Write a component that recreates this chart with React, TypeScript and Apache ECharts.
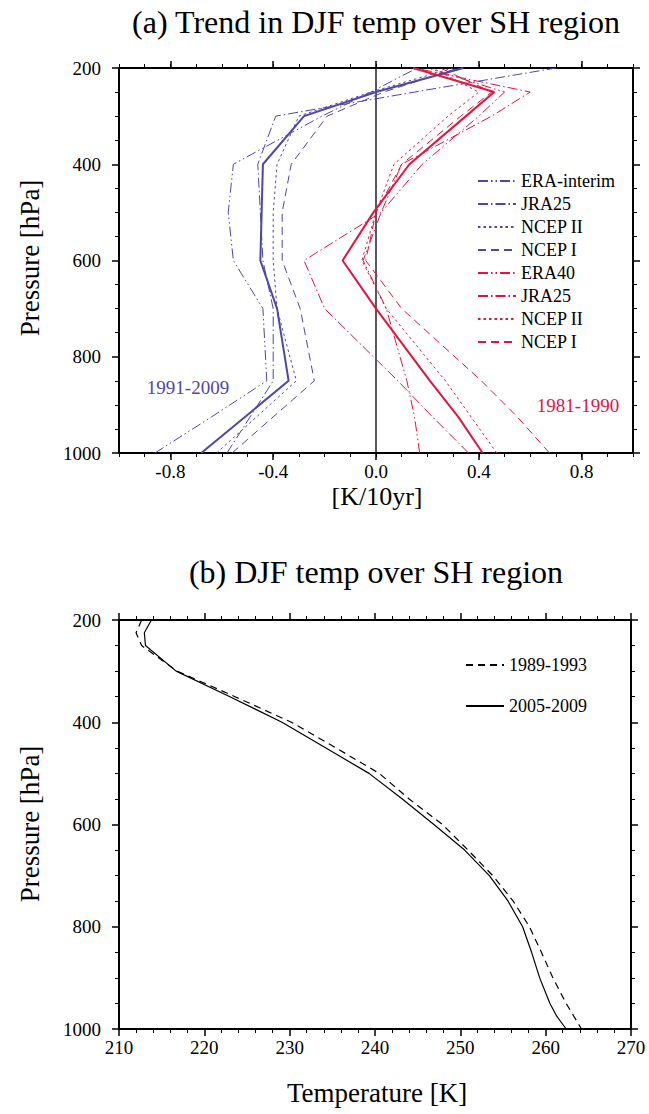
import React, { useEffect, useRef } from 'react';
import * as echarts from 'echarts';

// ---------- Panel (a): trend profiles ----------
const pressureA = [1000, 925, 850, 700, 600, 500, 400, 300, 250, 200];

const blueMean = [-0.68, -0.51, -0.34, -0.385, -0.45, -0.445, -0.44, -0.28, 0.0, 0.34];
const blueEraInterim = [-0.86, -0.64, -0.425, -0.44, -0.555, -0.575, -0.555, -0.21, -0.02, 0.16];
const blueJra25 = [-0.58, -0.49, -0.4, -0.4, -0.44, -0.45, -0.46, -0.39, 0.15, 0.7];
const blueNcep2 = [-0.62, -0.465, -0.31, -0.385, -0.4, -0.4, -0.385, -0.3, -0.02, 0.3];
const blueNcep1 = [-0.56, -0.4, -0.24, -0.295, -0.365, -0.365, -0.33, -0.19, 0.03, 0.32];

const redMean = [0.415, 0.32, 0.21, 0.0, -0.13, -0.01, 0.13, 0.35, 0.46, 0.145];
const redEra40 = [0.17, 0.15, 0.12, 0.04, -0.05, 0.02, 0.18, 0.4, 0.5, 0.2];
const redJra25 = [0.36, 0.22, 0.085, -0.2, -0.28, 0.02, 0.1, 0.45, 0.6, 0.15];
const redNcep2 = [0.47, 0.37, 0.27, 0.04, -0.055, 0.0, 0.07, 0.28, 0.4, 0.22];
const redNcep1 = [0.675, 0.55, 0.41, 0.1, -0.04, 0.0, 0.1, 0.33, 0.45, 0.25];

const zeroX = [0, 0];
const zeroP = [200, 1000];

const xMajorA = [-0.8, -0.4, 0, 0.4, 0.8];
const xMinorA = [-1.0, -0.9, -0.8, -0.7, -0.6, -0.5, -0.4, -0.3, -0.2, -0.1, 0, 0.1, 0.2, 0.3, 0.4, 0.5, 0.6, 0.7, 0.8, 0.9, 1.0];

const legendKeysA = ['b_era', 'b_jra', 'b_n2', 'b_n1', 'r_era', 'r_jra', 'r_n2', 'r_n1'];
const legendNamesA = ['ERA-interim', 'JRA25', 'NCEP II', 'NCEP I', 'ERA40', 'JRA25', 'NCEP II', 'NCEP I'];

// ---------- Panel (b): temperature profiles ----------
const pressureB = [200, 225, 250, 300, 350, 400, 450, 500, 550, 600, 650, 700, 750, 800, 850, 900, 950, 975, 1000];
const temp1989 = [212.65, 212.0, 212.65, 216.8, 223.6, 230.2, 235.4, 240.5, 244.0, 247.9, 250.9, 253.8, 256.2, 258.1, 259.5, 260.85, 262.4, 263.3, 264.2];
const temp2005 = [213.8, 212.97, 213.1, 216.7, 223.0, 229.1, 234.2, 239.3, 243.2, 246.9, 250.5, 253.4, 255.6, 257.3, 258.35, 259.3, 260.5, 261.3, 262.4];

const BLUE = '#4f47a6';
const RED = '#e3153f';
const FONT = '"Liberation Serif", "DejaVu Serif", serif';

const DASH_DOT_DOT = [10, 3, 1.5, 3, 1.5, 3];
const DASH_DOT = [10, 3, 1.5, 3];
const DOTTED = [2.5, 3];
const DASHED = [8, 5];

function profile(name: string, vals: number[], pres: number[], color: string, type: any, width: number, xIdx: number, yIdx: number, z = 2) {
  return {
    type: 'line',
    name,
    data: pres.map((p, i) => [vals[i], p]),
    xAxisIndex: xIdx,
    yAxisIndex: yIdx,
    symbol: 'none',
    showSymbol: false,
    silent: true,
    z,
    lineStyle: { color, width, type },
    itemStyle: { color },
  };
}

export default function App() {
  const ref = useRef<HTMLDivElement>(null);

  useEffect(() => {
    if (!ref.current) return;
    const chart = echarts.init(ref.current, undefined, { renderer: 'svg' });

    const axisLine = { show: true, onZero: false, lineStyle: { color: '#000', width: 2 } };
    const noLine = { show: false, onZero: false };
    const labelStyle = { fontFamily: FONT, fontSize: 19, color: '#000' };
    const hiddenSymbol = { color: 'rgba(0,0,0,0)', opacity: 0, borderWidth: 0 };

    const option: any = {
      animation: false,
      backgroundColor: '#fff',
      grid: [
        { left: 119, top: 68, width: 514, height: 385 },
        { left: 119, top: 620, width: 512, height: 409 },
      ],
      xAxis: [
        {
          type: 'value', gridIndex: 0, position: 'bottom', min: -1, max: 1,
          axisLine,
          axisTick: { show: true, length: 7, customValues: xMajorA, lineStyle: { color: '#000', width: 1.5 } },
          axisLabel: { show: true, customValues: xMajorA, margin: 9, ...labelStyle, formatter: (v: number) => v.toFixed(1) },
          splitLine: { show: false },
        },
        {
          type: 'value', gridIndex: 0, position: 'bottom', min: -1, max: 1,
          axisLine: noLine,
          axisTick: { show: true, length: 4, customValues: xMinorA, lineStyle: { color: '#000', width: 1 } },
          axisLabel: { show: false },
          splitLine: { show: false },
        },
        {
          type: 'value', gridIndex: 0, position: 'top', min: -1, max: 1,
          axisLine,
          axisTick: { show: true, length: 7, customValues: xMajorA, lineStyle: { color: '#000', width: 1.5 } },
          axisLabel: { show: false },
          splitLine: { show: false },
        },
        {
          type: 'value', gridIndex: 0, position: 'top', min: -1, max: 1,
          axisLine: noLine,
          axisTick: { show: true, length: 4, customValues: xMinorA, lineStyle: { color: '#000', width: 1 } },
          axisLabel: { show: false },
          splitLine: { show: false },
        },
        {
          type: 'value', gridIndex: 1, position: 'bottom', min: 210, max: 270, interval: 10,
          axisLine,
          axisTick: { show: true, length: 7, lineStyle: { color: '#000', width: 1.5 } },
          minorTick: { show: true, splitNumber: 5, length: 4, lineStyle: { color: '#000', width: 1 } },
          axisLabel: { show: true, margin: 9, ...labelStyle },
          splitLine: { show: false },
        },
        {
          type: 'value', gridIndex: 1, position: 'top', min: 210, max: 270, interval: 10,
          axisLine,
          axisTick: { show: true, length: 7, lineStyle: { color: '#000', width: 1.5 } },
          minorTick: { show: true, splitNumber: 5, length: 4, lineStyle: { color: '#000', width: 1 } },
          axisLabel: { show: false },
          splitLine: { show: false },
        },
      ],
      yAxis: [0, 0, 1, 1].map((g, i) => ({
        type: 'value', gridIndex: g, position: i % 2 === 0 ? 'left' : 'right',
        min: 200, max: 1000, interval: 200, inverse: true,
        axisLine,
        axisTick: { show: true, length: 7, lineStyle: { color: '#000', width: 1.5 } },
        minorTick: { show: true, splitNumber: 4, length: 4, lineStyle: { color: '#000', width: 1 } },
        axisLabel: { show: i % 2 === 0, margin: 18, ...labelStyle, formatter: (v: number) => String(v) },
        splitLine: { show: false },
      })),
      legend: [
        {
          data: legendKeysA,
          orient: 'vertical', left: 472, top: 167,
          itemWidth: 38, itemHeight: 14, itemGap: 5,
          selectedMode: false,
          itemStyle: hiddenSymbol,
          formatter: (n: string) => legendNamesA[legendKeysA.indexOf(n)],
          textStyle: { fontFamily: FONT, fontSize: 18, color: '#000' },
        },
        {
          data: ['1989-1993', '2005-2009'],
          orient: 'vertical', left: 460, top: 651,
          itemWidth: 38, itemHeight: 14, itemGap: 23,
          selectedMode: false,
          itemStyle: hiddenSymbol,
          textStyle: { fontFamily: FONT, fontSize: 18, color: '#000' },
        },
      ],
      series: [
        profile('zero', zeroX, zeroP, '#000', 'solid', 1.3, 0, 0, 1),
        profile('b_era', blueEraInterim, pressureA, BLUE, DASH_DOT_DOT, 1, 0, 0),
        profile('b_jra', blueJra25, pressureA, BLUE, DASH_DOT, 1, 0, 0),
        profile('b_n2', blueNcep2, pressureA, BLUE, DOTTED, 1, 0, 0),
        profile('b_n1', blueNcep1, pressureA, BLUE, DASHED, 1, 0, 0),
        profile('r_era', redEra40, pressureA, RED, DASH_DOT_DOT, 1, 0, 0),
        profile('r_jra', redJra25, pressureA, RED, DASH_DOT, 1, 0, 0),
        profile('r_n2', redNcep2, pressureA, RED, DOTTED, 1, 0, 0),
        profile('r_n1', redNcep1, pressureA, RED, DASHED, 1, 0, 0),
        profile('b_mean', blueMean, pressureA, BLUE, 'solid', 2, 0, 0, 3),
        profile('r_mean', redMean, pressureA, RED, 'solid', 2, 0, 0, 3),
        profile('1989-1993', temp1989, pressureB, '#000', [7, 5], 1.2, 4, 2),
        profile('2005-2009', temp2005, pressureB, '#000', 'solid', 1.2, 4, 2),
      ],
      graphic: [
        { type: 'text', x: 376, y: 22, style: { text: '(a) Trend in DJF temp over SH region', font: `32px ${FONT}`, fill: '#000', textAlign: 'center', textVerticalAlign: 'middle' } },
        { type: 'text', x: 376, y: 572, style: { text: '(b) DJF temp over SH region', font: `32px ${FONT}`, fill: '#000', textAlign: 'center', textVerticalAlign: 'middle' } },
        { type: 'text', x: 30, y: 258, rotation: Math.PI / 2, style: { text: 'Pressure [hPa]', font: `27px ${FONT}`, fill: '#000', textAlign: 'center', textVerticalAlign: 'middle' } },
        { type: 'text', x: 30, y: 824, rotation: Math.PI / 2, style: { text: 'Pressure [hPa]', font: `27px ${FONT}`, fill: '#000', textAlign: 'center', textVerticalAlign: 'middle' } },
        { type: 'text', x: 377, y: 496, style: { text: '[K/10yr]', font: `26px ${FONT}`, fill: '#000', textAlign: 'center', textVerticalAlign: 'middle' } },
        { type: 'text', x: 377, y: 1093, style: { text: 'Temperature [K]', font: `27px ${FONT}`, fill: '#000', textAlign: 'center', textVerticalAlign: 'middle' } },
        { type: 'text', x: 188, y: 387, style: { text: '1991-2009', font: `19px ${FONT}`, fill: BLUE, textAlign: 'center', textVerticalAlign: 'middle' } },
        { type: 'text', x: 578, y: 405, style: { text: '1981-1990', font: `19px ${FONT}`, fill: RED, textAlign: 'center', textVerticalAlign: 'middle' } },
      ],
    };

    chart.setOption(option);
    return () => chart.dispose();
  }, []);

  return <div ref={ref} style={{ position: 'absolute', left: 0, top: 0, width: 649, height: 1114, background: '#fff' }} />;
}
